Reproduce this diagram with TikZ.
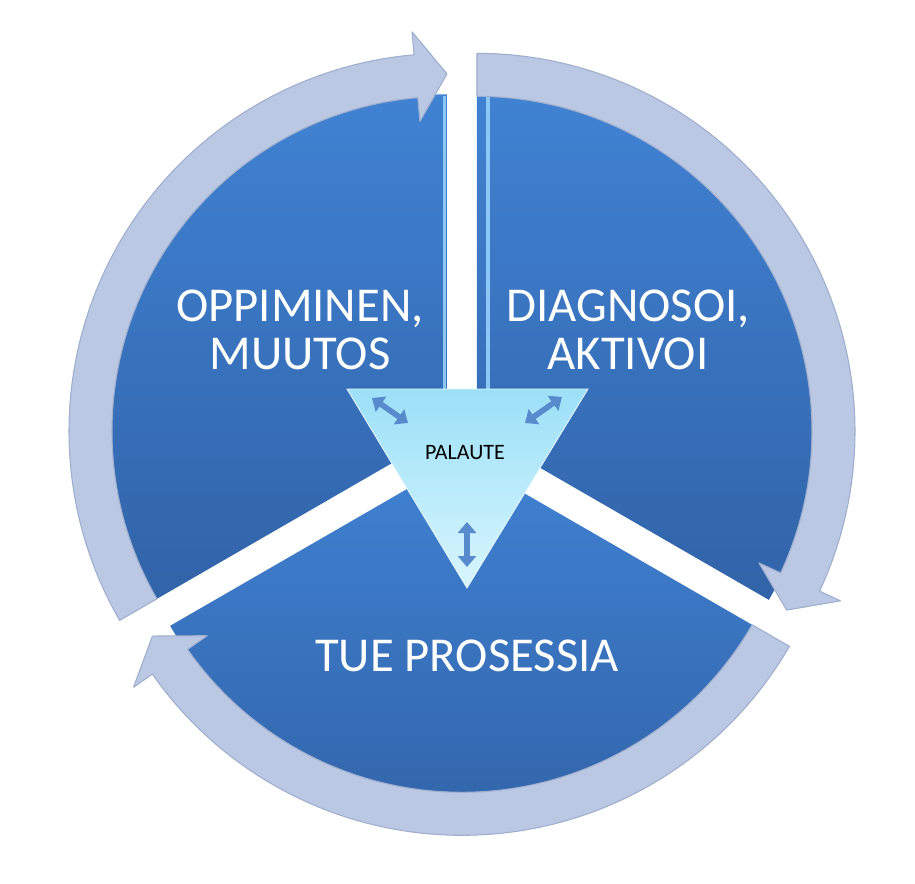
\documentclass[tikz,border=0pt]{standalone}
\usepackage{fontspec}
\setmainfont{Carlito}
\usetikzlibrary{arrows.meta,calc}
\definecolor{slicetop}{RGB}{64,130,211}
\definecolor{slicebot}{RGB}{49,99,168}
\definecolor{ringfill}{RGB}{186,200,227}
\definecolor{ringedge}{RGB}{158,174,206}
\definecolor{bevellight}{RGB}{140,200,246}
\definecolor{tritop}{RGB}{156,224,248}
\definecolor{tribot}{RGB}{216,246,253}
\definecolor{fbarrow}{RGB}{88,139,205}

\begin{document}
\begin{tikzpicture}[
  slice/.style={top color=slicetop, bottom color=slicebot},
  ringarrow/.style={fill=ringfill, draw=ringedge, line width=0.6pt, line join=round},
  bevel/.style={draw=bevellight, line width=2.2pt},
  fbtri/.style={top color=tritop, bottom color=tribot, draw=white!70!tritop, line width=0.5pt},
  fbmap/.style={draw=fbarrow, line width=3.2pt,
    arrows={Triangle[width=0.36cm,length=0.22cm]-Triangle[width=0.36cm,length=0.22cm]}},
  phaselabel/.style={text=white, align=center, font=\fontsize{27.7pt}{27.3pt}\selectfont}
]
  \useasboundingbox (-9.24,-8.86) rectangle (9.06,8.80);

  \coordinate (pl) at (-0.30,0.173);
  \coordinate (pr) at (0.30,0.173);
  \coordinate (pb) at (0,-0.346);

  \path[slice] (pl) -- ++(90:6.74) arc[start angle=90, end angle=210, radius=6.74] -- cycle;
  \path[slice] (pr) -- ++(-30:6.74) arc[start angle=-30, end angle=90, radius=6.74] -- cycle;
  \path[slice] (pb) -- ++(210:6.74) arc[start angle=210, end angle=330, radius=6.74] -- cycle;
  \draw[bevel] ($(pl)+(-0.05,0)$) -- ++(0,6.70);
  \draw[bevel] ($(pr)+(0.22,0)$) -- ++(0,6.70);

  \begin{scope}[shift={(pl)}]
    \path[ringarrow] (210:6.70) arc[start angle=210, end angle=95, radius=6.70]
      -- (95:6.22) -- (90:7.15) -- (95:8.02) -- (95:7.56)
      arc[start angle=95, end angle=210, radius=7.56] -- cycle;
  \end{scope}
  \begin{scope}[shift={(pr)}]
    \path[ringarrow] (90:6.70) arc[start angle=90, end angle=-25, radius=6.70]
      -- (-25:6.22) -- (-30:7.15) -- (-25:8.02) -- (-25:7.56)
      arc[start angle=-25, end angle=90, radius=7.56] -- cycle;
  \end{scope}
  \begin{scope}[shift={(pb)}]
    \path[ringarrow] (330:6.70) arc[start angle=330, end angle=215, radius=6.70]
      -- (215:6.22) -- (210:7.15) -- (215:8.02) -- (215:7.56)
      arc[start angle=215, end angle=330, radius=7.56] -- cycle;
  \end{scope}

  \node[phaselabel] (learn) at (-3.24,2.20) {OPPIMINEN,\\MUUTOS};
  \node[phaselabel] (diagnose) at (3.32,2.20) {DIAGNOSOI,\\AKTIVOI};
  \node[phaselabel] (support) at (0.10,-4.32) {TUE PROSESSIA};

  \coordinate (tl) at (-2.30,1.02);
  \coordinate (tr) at (2.52,1.02);
  \coordinate (tb) at (0.10,-2.96);
  \path[fbtri] (tl) -- (tr) -- (tb) -- cycle;
  \node[font=\fontsize{12.5pt}{14pt}\selectfont] (feedback) at (0.06,-0.26) {PALAUTE};

  \coordinate (fl1) at (-1.80,0.84);
  \coordinate (fl2) at (-1.08,0.34);
  \coordinate (fr1) at (1.26,0.34);
  \coordinate (fr2) at (2.00,0.86);
  \coordinate (fb1) at (0.10,-1.64);
  \coordinate (fb2) at (0.10,-2.54);
  \draw[fbmap] (fl1) -- (fl2);
  \draw[fbmap] (fr1) -- (fr2);
  \draw[fbmap] (fb1) -- (fb2);
\end{tikzpicture}
\end{document}
